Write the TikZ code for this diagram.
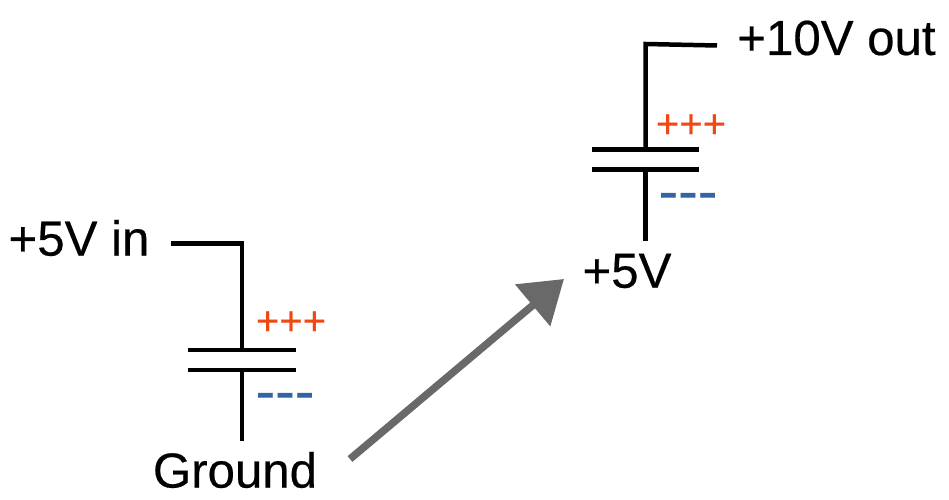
\documentclass[tikz,border=0pt]{standalone}
\usepackage{fontspec}
\setmainfont[FakeBold=0.4]{Liberation Sans}
\usetikzlibrary{arrows.meta}
\definecolor{plusred}{RGB}{240,72,20}
\definecolor{minusblue}{RGB}{52,100,165}
\definecolor{arrowgray}{RGB}{105,105,105}

\begin{document}
\begin{tikzpicture}[
  volt/.style={inner sep=0pt, text=black, font=\fontsize{28}{30}\selectfont},
  plus/.style={inner sep=0pt, text=plusred, font=\fontsize{22.8}{25}\selectfont},
  minus/.style={inner sep=0pt, text=minusblue, font=\fontsize{33.5}{35}\selectfont},
  wire/.style={draw=black, line width=0.09cm},
  pump/.style={-{Triangle[length=0.82cm, width=1.06cm]}, draw=arrowgray, line width=0.15cm}
]
\useasboundingbox (0,0) rectangle (18.98,9.98);

% Labels
\node[volt] (vin)    at (1.58, 5.22)  {+5V in};
\node[volt] (ground) at (4.70, 0.58)  {Ground};
\node[volt] (vmid)   at (12.54, 4.56) {+5V};
\node[volt] (vout)   at (16.73, 9.22) {+10V out};

% Charges
\node[plus]  (plusA)  at (5.82, 3.52)  {+++};
\node[minus] (minusA) at (5.70, 1.94)  {-{}-{}-};
\node[plus]  (plusB)  at (13.82, 7.46) {+++};
\node[minus] (minusB) at (13.76, 5.94) {-{}-{}-};

% Capacitor before the pump
\coordinate (inEnd)   at (3.42, 5.11);
\coordinate (inBend)  at (4.84, 5.11);
\coordinate (topA)    at (4.84, 2.98);
\coordinate (topAl)   at (3.76, 2.98);
\coordinate (topAr)   at (5.92, 2.98);
\coordinate (botA)    at (4.84, 2.58);
\coordinate (botAl)   at (3.76, 2.58);
\coordinate (botAr)   at (5.92, 2.58);
\coordinate (groundEnd) at (4.84, 1.16);

% Capacitor after the pump
\coordinate (outEnd)  at (14.34, 9.07);
\coordinate (outBend) at (12.91, 9.10);
\coordinate (topB)    at (12.91, 6.99);
\coordinate (topBl)   at (11.84, 6.99);
\coordinate (topBr)   at (13.98, 6.99);
\coordinate (botB)    at (12.91, 6.59);
\coordinate (botBl)   at (11.84, 6.59);
\coordinate (botBr)   at (13.98, 6.59);
\coordinate (midEnd)  at (12.91, 5.16);

% Pump arrow ends
\coordinate (pumpFrom) at (7.00, 0.80);
\coordinate (pumpTo)   at (11.28, 4.40);

% Wires
\draw[wire, line join=miter] (inEnd) -- (inBend) -- (topA);
\draw[wire] (topAl) -- (topAr);
\draw[wire] (botAl) -- (botAr);
\draw[wire] (botA) -- (groundEnd);
\draw[wire, line join=miter] (outEnd) -- (outBend) -- (topB);
\draw[wire] (topBl) -- (topBr);
\draw[wire] (botBl) -- (botBr);
\draw[wire] (botB) -- (midEnd);

% Arrow
\draw[pump] (pumpFrom) -- (pumpTo);

\end{tikzpicture}
\end{document}
